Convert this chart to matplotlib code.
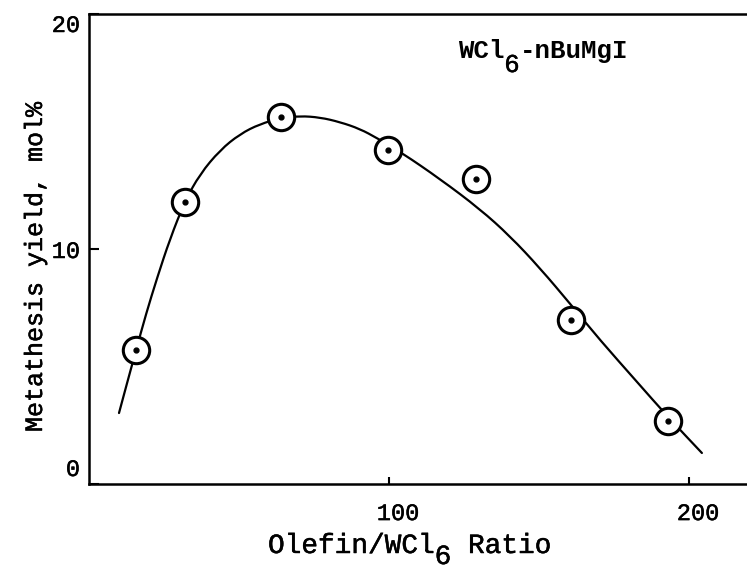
import numpy as np
import matplotlib.pyplot as plt
import matplotlib.transforms as mtransforms
import matplotlib.patheffects as pe
from matplotlib.path import Path
from matplotlib.patches import PathPatch

plt.rcParams['font.family'] = 'Liberation Mono'

# measured yields (olefin/WCl6 ratio, mol%)
ratio = [15.7, 32, 64, 99.7, 129, 160.7, 193]
yield_pct = [5.7, 12.0, 15.6, 14.2, 13.0, 7.0, 2.7]

# hand-drawn trend curve through the data
curve_ratio = [10.0, 12.7, 15.7, 19.0, 22.7, 27.0, 32.0, 37.0, 43.7, 50.3,
               57.0, 64.0, 70.3, 77.0, 83.7, 90.3, 96.0, 104.3, 117.0,
               130.3, 140.3, 150.3, 160.7, 170.3, 182.7, 193.0, 204.3]
curve_yield = [3.02, 4.30, 5.70, 7.23, 8.77, 10.43, 12.04, 13.19, 14.21, 14.89,
               15.32, 15.57, 15.66, 15.60, 15.40, 15.11, 14.72, 14.09, 12.98,
               11.70, 10.55, 9.19, 7.62, 6.13, 4.34, 2.85, 1.32]

xticks = [100, 200]
yticks = [0, 10, 20]

ink = [pe.withStroke(linewidth=0.35, foreground='black')]

fig = plt.figure(figsize=(7.47, 5.71), dpi=100)
ax = fig.add_axes([89/747, 87/571, 690/747, 470/571])

# smooth the curve: quadratic beziers between midpoints, data points as controls
pts = np.column_stack([curve_ratio, curve_yield])
mids = (pts[:-1] + pts[1:]) / 2
verts = [pts[0], mids[0]]
codes = [Path.MOVETO, Path.LINETO]
for i in range(1, len(pts) - 1):
    verts += [pts[i], mids[i]]
    codes += [Path.CURVE3, Path.CURVE3]
verts.append(pts[-1])
codes.append(Path.LINETO)
ax.add_patch(PathPatch(Path(verts, codes), fill=False, ec='black', lw=1.6,
                       capstyle='round', zorder=2))

ax.plot(ratio, yield_pct, 'o', ms=19, mfc='white', mec='black', mew=2.2, zorder=3)
ax.plot(ratio, yield_pct, 'o', ms=3.5, color='black', zorder=4)

ax.set_xlim(0, 230)
ax.set_ylim(0, 20)
ax.spines['right'].set_visible(False)
for s in ['left', 'bottom', 'top']:
    ax.spines[s].set_linewidth(1.8)

ax.set_xticks(xticks)
ax.set_yticks(yticks)
ax.tick_params(axis='x', direction='in', length=5, width=1.5, pad=13, labelsize=17)
ax.tick_params(axis='y', direction='in', length=7, width=1.5, pad=6.5, labelsize=17)

# nudge tick labels the way they sit on the typed figure
for lab in ax.get_xticklabels():
    lab.set_transform(lab.get_transform() +
                      mtransforms.ScaledTranslation(9/100, 0, fig.dpi_scale_trans))
    lab.set_path_effects(ink)
for lab, dy in zip(ax.get_yticklabels(), [17, 0, -9]):
    lab.set_transform(lab.get_transform() +
                      mtransforms.ScaledTranslation(0, dy/100, fig.dpi_scale_trans))
    lab.set_path_effects(ink)

# x label typed in pieces so the subscript stays full size
W, H = 747, 571
adv = 0.6 * 20 * 100 / 72
x0, base = 268, 553
fig.text(x0/W, (H-base)/H, 'Olefin/WCl', fontsize=20, va='baseline', path_effects=ink)
fig.text((x0 + 10*adv)/W, (H-base-11)/H, '6', fontsize=20, va='baseline', path_effects=ink)
fig.text((x0 + 11*adv)/W, (H-base)/H, ' Ratio', fontsize=20, va='baseline', path_effects=ink)

fig.text(35/W, (H-267)/H, 'Metathesis yield, mol%', fontsize=18,
         rotation=90, ha='center', va='center', path_effects=ink)

# catalyst note
adv = 0.6 * 18.5 * 100 / 72
x0, base = 458, 58
fig.text(x0/W, (H-base)/H, 'WCl', fontsize=18.5, fontweight='bold', va='baseline')
fig.text((x0 + 3*adv)/W, (H-base-14)/H, '6', fontsize=18.5, va='baseline',
         path_effects=ink)
fig.text((x0 + 4*adv)/W, (H-base)/H, '-nBuMgI', fontsize=18.5, fontweight='bold',
         va='baseline')

fig.savefig('out.png', dpi=100)
